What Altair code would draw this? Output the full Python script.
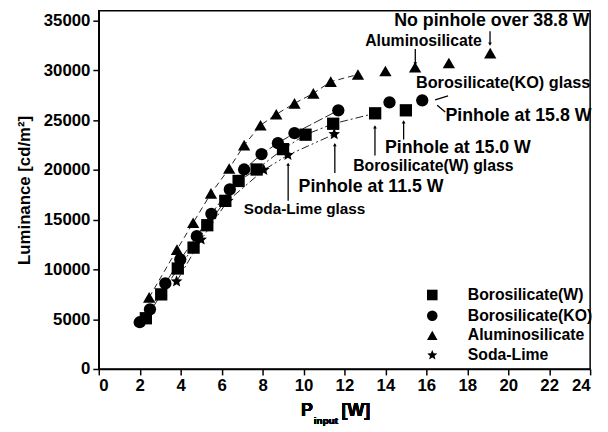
import altair as alt
import pandas as pd

FONT = "Liberation Sans"

series_order = ["Borosilicate(W)", "Borosilicate(KO)", "Aluminosilicate", "Soda-Lime"]

w_x = [2.3, 3.05, 3.86, 4.63, 5.3, 6.18, 6.83, 7.71, 9.0, 10.1, 11.45, 13.5, 15.0]
w_y = [5100, 7500, 10100, 12200, 14450, 16900, 18900, 20050, 22100, 23550, 24650, 25700, 26000]

ko_x = [2.0, 2.5, 3.25, 3.98, 4.79, 5.5, 6.4, 7.1, 7.95, 8.75, 9.56, 11.7, 14.2, 15.8]
ko_y = [4700, 6000, 8600, 11000, 13350, 15600, 18050, 20050, 21600, 22700, 23700, 26000, 26800, 27000]

al_x = [2.46, 3.82, 4.61, 5.48, 6.37, 7.1, 7.9, 8.67, 9.56, 10.48, 11.33, 12.66, 14.0, 15.45, 17.1, 19.12]
al_y = [7200, 12000, 14700, 17650, 20150, 22500, 24500, 25600, 26700, 27700, 28880, 29600, 29950, 30330, 30760, 31750]

sl_x = [3.8, 5.0, 6.3, 8.06, 9.24, 11.5]
sl_y = [8800, 13000, 16900, 20000, 21500, 23600]

# annotation texts (data coordinates)
ann_text = ["No pinhole over 38.8 W", "Aluminosilicate", "Borosilicate(KO) glass",
            "Pinhole at 15.8 W", "Pinhole at 15.0 W", "Borosilicate(W) glass",
            "Pinhole at 11.5 W", "Soda-Lime glass"]
ann_x = [19.2, 15.86, 19.75, 20.5, 17.54, 16.34, 13.3, 10.05]
ann_y = [34930, 32950, 28700, 25430, 22160, 20380, 18310, 16030]
ann_size = [18, 16, 16.5, 18, 18, 16, 18, 15.5]

# arrows: start (x, y) -> end (x2, y2)
arr_x = [19.11, 15.46, 17.06, 16.53, 14.89, 13.49, 11.53, 9.25]
arr_y = [33940, 32160, 27460, 26520, 24840, 24340, 22560, 20580]
arr_x2 = [19.11, 15.46, 16.43, 16.92, 14.89, 13.49, 11.53, 9.25]
arr_y2 = [32650, 30670, 27060, 25830, 23060, 21470, 19690, 16920]

# arrow heads
head_x = [19.11, 15.46, 14.89, 13.49, 11.53, 9.25]
head_y = [32650, 30670, 24840, 24340, 22560, 20580]
head_dir = ["down", "down", "up", "up", "up", "up"]

rows = []
for name, xs, ys in [(series_order[0], w_x, w_y), (series_order[1], ko_x, ko_y),
                     (series_order[2], al_x, al_y), (series_order[3], sl_x, sl_y)]:
    for xv, yv in zip(xs, ys):
        rows.append({"series": name, "kind": name, "x": xv, "y": yv})
df = pd.DataFrame(rows)

ann = pd.DataFrame({"text": ann_text, "x": ann_x, "y": ann_y, "fs": ann_size})
arr = pd.DataFrame({"x": arr_x, "y": arr_y, "x2": arr_x2, "y2": arr_y2})
heads = pd.DataFrame({"x": head_x, "y": head_y, "dir": head_dir})

star = "M0,-1L0.265,-0.364L0.951,-0.309L0.428,0.139L0.588,0.809L0,0.45L-0.588,0.809L-0.428,0.139L-0.951,-0.309L-0.265,-0.364Z"

xscale = alt.Scale(domain=[0, 24], nice=False)
yscale = alt.Scale(domain=[0, 36000], nice=False)

xaxis = alt.Axis(
    values=list(range(0, 25)),
    labelExpr="datum.value % 2 == 0 ? datum.label : ''",
    tickSize={"condition": {"test": "datum.value % 2 == 0", "value": 6}, "value": 3},
    title=None, grid=False, format="d",
)
yaxis = alt.Axis(
    values=list(range(0, 36001, 2500)),
    labelExpr="datum.value % 5000 == 0 ? datum.label : ''",
    tickSize={"condition": {"test": "datum.value % 5000 == 0", "value": 6}, "value": 3},
    title="Luminance [cd/m²]", grid=False, format="d", titlePadding=10,
)

X = alt.X("x:Q", scale=xscale, axis=xaxis)
Y = alt.Y("y:Q", scale=yscale, axis=yaxis)

lines = alt.Chart(df).transform_filter("datum.x <= 13.6").mark_line(
    color="#222", strokeWidth=1
).encode(
    x=X, y=Y, detail="kind:N", order="x:Q",
    strokeDash=alt.StrokeDash("kind:N", scale=alt.Scale(
        domain=series_order, range=[[8, 3, 2, 3], [10, 3], [6, 4], [8, 3, 2, 3, 2, 3]]), legend=None),
)

points = alt.Chart(df).mark_point(filled=True, opacity=1, color="black", size=155).encode(
    x=X, y=Y,
    shape=alt.Shape("series:N", scale=alt.Scale(domain=series_order,
                    range=["square", "circle", "triangle-up", star]),
                    legend=alt.Legend(title=None, orient="none", legendX=330, legendY=280,
                                      symbolSize=115, symbolFillColor="black",
                                      symbolStrokeColor="black")),
)

rules = alt.Chart(arr).mark_rule(color="black", strokeWidth=1.3).encode(
    x="x:Q", y="y:Q", x2="x2:Q", y2="y2:Q")

heads_up = alt.Chart(heads).transform_filter("datum.dir == 'up'").mark_point(
    filled=True, color="black", opacity=1, size=14, shape="triangle-up").encode(
    x="x:Q", y="y:Q")
heads_down = alt.Chart(heads).transform_filter("datum.dir == 'down'").mark_point(
    filled=True, color="black", opacity=1, size=14, shape="triangle-down").encode(
    x="x:Q", y="y:Q")

texts = alt.Chart(ann).mark_text(font=FONT, fontWeight="bold", color="black",
                                 align="center", baseline="middle").encode(
    x="x:Q", y="y:Q", text="text:N", size=alt.Size("fs:Q", scale=None, legend=None))

t_p = alt.Chart(ann).mark_text(text="P", font=FONT, fontWeight="bold", fontSize=18,
                               align="left", baseline="middle", color="black").encode(
    x=alt.value(205), y=alt.value(406))
t_in = alt.Chart(ann).mark_text(text="input", font=FONT, fontWeight="bold", fontSize=10,
                                align="left", baseline="middle", color="black").encode(
    x=alt.value(218), y=alt.value(416))
t_w = alt.Chart(ann).mark_text(text="[W]", font=FONT, fontWeight="bold", fontSize=18,
                               align="left", baseline="middle", color="black").encode(
    x=alt.value(246), y=alt.value(406))

chart = alt.layer(lines, points, rules, heads_up, heads_down, texts, t_p, t_in, t_w).resolve_scale(
    size="independent", strokeDash="independent", shape="independent"
).properties(
    width=498, height=363,
    padding={"left": 92, "top": 0, "right": 10, "bottom": 61},
    autosize="none",
).configure_view(stroke="black", strokeWidth=1.5).configure_axis(
    labelFont=FONT, labelFontWeight="bold", labelFontSize=17, labelColor="black",
    titleFont=FONT, titleFontWeight="bold", titleFontSize=17, titleColor="black",
    domainColor="black", domainWidth=1.5, tickColor="black", tickWidth=1.5, labelPadding=3,
).configure_legend(
    labelFont=FONT, labelFontWeight="bold", labelFontSize=16, labelColor="black",
    labelOffset=28, rowPadding=3, padding=0, labelLimit=300,
)

chart.save("out.html", embed_options={"renderer": "svg", "actions": False})
